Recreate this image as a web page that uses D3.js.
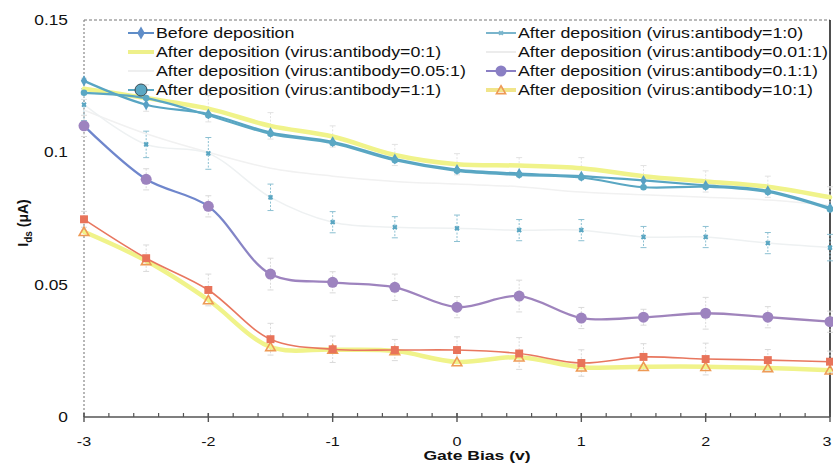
<!DOCTYPE html>
<html>
<head>
<meta charset="utf-8">
<script src="https://cdn.jsdelivr.net/npm/d3@7"></script>
<style>
  body { margin: 0; background: #fff; }
  svg { display: block; font-family: "Liberation Sans", Arial, sans-serif; }
</style>
</head>
<body>
<svg id="chart" width="833" height="465"></svg>
<script>
// ---------------- DATA ----------------
const gateBias = [-3, -2.5, -2, -1.5, -1, -0.5, 0, 0.5, 1, 1.5, 2, 2.5, 3];
const xTicks = [-3, -2, -1, 0, 1, 2, 3];
const xTickLabels = ["-3", "-2", "-1", "0", "1", "2", "3"];
const yTicks = [0, 0.05, 0.1, 0.15];
const yTickLabels = ["0", "0.05", "0.1", "0.15"];

const beforeDeposition = [0.127, 0.118, 0.1145, 0.1075, 0.104, 0.0975, 0.0935, 0.092, 0.091, 0.0894, 0.0875, 0.0855, 0.079];
const ratio0to1 = [0.124, 0.1205, 0.1165, 0.110, 0.106, 0.099, 0.0955, 0.095, 0.094, 0.091, 0.089, 0.087, 0.083];
const ratio005to1 = [0.0747, 0.060, 0.048, 0.0294, 0.0256, 0.0253, 0.0253, 0.024, 0.0204, 0.0227, 0.0219, 0.0215, 0.0209];
const ratio1to1 = [0.1225, 0.1205, 0.114, 0.107, 0.1035, 0.097, 0.093, 0.0915, 0.0905, 0.0868, 0.087, 0.085, 0.0785];
const ratio1to0 = [0.118, 0.103, 0.0996, 0.083, 0.0736, 0.0717, 0.0713, 0.0706, 0.0706, 0.068, 0.068, 0.0657, 0.064];
const ratio001to1 = [0.116, 0.107, 0.100, 0.094, 0.091, 0.089, 0.088, 0.087, 0.085, 0.084, 0.083, 0.082, 0.080];
const ratio01to1 = [0.110, 0.0898, 0.0796, 0.054, 0.0509, 0.049, 0.0415, 0.0457, 0.0374, 0.0377, 0.0392, 0.0377, 0.036];
const ratio10to1 = [0.070, 0.059, 0.0442, 0.0265, 0.0255, 0.025, 0.0208, 0.0226, 0.0188, 0.019, 0.019, 0.0185, 0.0177];

// error bar half-lengths
const err1to0 = [0.006, 0.005, 0.006, 0.005, 0.004, 0.004, 0.005, 0.004, 0.004, 0.004, 0.004, 0.004, 0.005];
const err01to1 = [0.004, 0.004, 0.004, 0.006, 0.004, 0.005, 0.004, 0.006, 0.004, 0.003, 0.006, 0.004, 0.004];
const err005to1 = [0.003, 0.005, 0.006, 0.006, 0.005, 0.004, 0.005, 0.006, 0.005, 0.005, 0.006, 0.004, 0.004];
const err0to1 = [0.004, 0.005, 0.005, 0.005, 0.004, 0.004, 0.004, 0.003, 0.004, 0.004, 0.004, 0.004, 0.004];

// ---------------- SERIES STYLE ----------------
const series = [
  { name: "After deposition (virus:antibody=0.01:1)", values: ratio001to1, color: "#f1f1f1", width: 1.5, marker: "none", legend: [1, 1], swatch: "#ececec", err: null },
  { name: "After deposition (virus:antibody=1:0)", values: ratio1to0, color: "#eef1f2", width: 1.5, marker: "star", mcolor: "#5aa6c2", msize: 0.8, legend: [1, 0], swatch: "#7ab5cc", err: err1to0, ecolor: "#8cc0d2" },
  { name: "After deposition (virus:antibody=0:1)", values: ratio0to1, color: "#f0f38a", width: 4.5, marker: "none", legend: [0, 1], swatch: "#eef08a", err: err0to1, ecolor: "#e2e2e2" },
  { name: "Before deposition", values: beforeDeposition, color: "#58a5c3", width: 2.2, marker: "diamond", mcolor: "#58a0c4", msize: 0.7, legend: [0, 0], swatch: "#5f8dc8", err: null },
  { name: "After deposition (virus:antibody=1:1)", values: ratio1to1, color: "#5aa7c3", width: 2.2, marker: "circle", mcolor: "#5aa7c3", msize: 0.6, legend: [0, 3], swatch: "#5aa7c3", err: null },
  { name: "After deposition (virus:antibody=0.1:1)", values: ratio01to1, color: "url(#purpleGrad)", width: 2.3, marker: "circle", mcolor: "#9d83bf", msize: 1, legend: [1, 2], swatch: "#8a7fc4", err: err01to1, ecolor: "#dadada" },
  { name: "After deposition (virus:antibody=10:1)", values: ratio10to1, color: "#f0f38a", width: 4.5, marker: "triangle", mcolor: "#ee9a55", msize: 1, legend: [1, 3], swatch: "#f1e58a", err: null },
  { name: "After deposition (virus:antibody=0.05:1)", values: ratio005to1, color: "#e8775f", width: 1.6, marker: "square", mcolor: "#e8735a", msize: 0.9, legend: [0, 2], swatch: "#efefef", err: err005to1, ecolor: "#dadada" }
];

// ---------------- LAYOUT ----------------
const svg = d3.select("#chart");
const x = d3.scaleLinear().domain([-3, 3]).range([84, 830]);
const y = d3.scaleLinear().domain([0, 0.15]).range([417, 20]);
const SX = 1.24; // horizontal stretch of lettering in the scan

const defs = svg.append("defs");
const grad = defs.append("linearGradient").attr("id", "purpleGrad")
  .attr("gradientUnits", "userSpaceOnUse")
  .attr("x1", x(-3)).attr("x2", x(3)).attr("y1", 0).attr("y2", 0);
grad.append("stop").attr("offset", (x(-2) - x(-3)) / (x(3) - x(-3))).attr("stop-color", "#6f86cc");
grad.append("stop").attr("offset", (x(-1.5) - x(-3)) / (x(3) - x(-3))).attr("stop-color", "#9d83bf");
grad.append("stop").attr("offset", 1).attr("stop-color", "#a084bb");

function stretchedText(g, tx, ty, str, opts) {
  const t = g.append("text")
    .attr("transform", `translate(${tx},${ty}) scale(${opts.sx || SX},1)` + (opts.rotate ? ` rotate(${opts.rotate})` : ""))
    .attr("text-anchor", opts.anchor || "start")
    .attr("font-size", opts.size || 14)
    .attr("font-weight", opts.weight || "normal")
    .attr("fill", opts.fill || "#111");
  if (str !== null) t.text(str);
  return t;
}

// ---------------- FRAME & AXES ----------------
svg.append("line").attr("x1", x(-3)).attr("x2", x(3)).attr("y1", y(0.15)).attr("y2", y(0.15))
  .attr("stroke", "#777").attr("stroke-width", 1.2).attr("stroke-dasharray", "3,2");
svg.append("line").attr("x1", x(-3)).attr("x2", x(-3)).attr("y1", y(0.15)).attr("y2", y(0))
  .attr("stroke", "#888").attr("stroke-width", 1.2).attr("stroke-dasharray", "2,2");
svg.append("line").attr("x1", x(3)).attr("x2", x(3)).attr("y1", y(0.15)).attr("y2", y(0))
  .attr("stroke", "#222").attr("stroke-width", 1.6);

const xAxisG = svg.append("g").attr("transform", `translate(0,${y(0)})`);
xAxisG.append("line").attr("x1", x(-3)).attr("x2", x(3)).attr("stroke", "#555").attr("stroke-width", 1.6);
const minor = d3.range(-3, 3.001, 0.2).map(v => +v.toFixed(1));
xAxisG.selectAll("line.minor").data(minor).join("line").attr("class", "minor")
  .attr("x1", d => x(d)).attr("x2", d => x(d)).attr("y1", -4).attr("y2", 0)
  .attr("stroke", "#555").attr("stroke-width", 1.2);
xAxisG.selectAll("line.major").data(xTicks).join("line").attr("class", "major")
  .attr("x1", d => x(d)).attr("x2", d => x(d)).attr("y1", -4).attr("y2", 5)
  .attr("stroke", "#555").attr("stroke-width", 1.4);
xTicks.forEach((v, i) => {
  const px = Math.min(x(v), 827);
  stretchedText(svg, px, 446, xTickLabels[i], { anchor: "middle", size: 13 });
});

yTicks.forEach((v, i) => stretchedText(svg, 68, y(v) + 5, yTickLabels[i], { anchor: "end", size: 14 }));

stretchedText(svg, 477, 460, "Gate Bias (v)", { anchor: "middle", size: 13.5, weight: "bold", sx: 1.3 });
const yt = stretchedText(svg, 28, 223, null, { anchor: "middle", size: 14, weight: "bold", rotate: -90, sx: 1.1 });
yt.append("tspan").text("I");
yt.append("tspan").attr("font-size", 10).attr("dy", 4).text("ds");
yt.append("tspan").attr("dy", -4).text(" (\u03bcA)");

// ---------------- DATA MARKS ----------------
const line = d3.line().x(d => x(d[0])).y(d => y(d[1])).curve(d3.curveCatmullRom.alpha(0.5));
const plot = svg.append("g");

series.forEach(s => {
  if (!s.err) return;
  const g = plot.append("g");
  gateBias.forEach((gx, i) => {
    const cx = x(gx), top = y(s.values[i] + s.err[i]), bot = y(s.values[i] - s.err[i]);
    g.append("line").attr("x1", cx).attr("x2", cx).attr("y1", top).attr("y2", bot)
      .attr("stroke", s.ecolor).attr("stroke-width", 1).attr("stroke-dasharray", "2,1.5");
    [top, bot].forEach(yy => g.append("line").attr("x1", cx - 3).attr("x2", cx + 3).attr("y1", yy).attr("y2", yy)
      .attr("stroke", s.ecolor).attr("stroke-width", 1));
  });
});

function drawMarker(g, type, cx, cy, color, size) {
  size = size || 1;
  if (type === "circle") {
    g.append("circle").attr("cx", cx).attr("cy", cy).attr("r", 5.5 * size).attr("fill", color);
  } else if (type === "diamond") {
    g.append("path").attr("d", d3.symbol(d3.symbolDiamond, 50 * size)()).attr("transform", `translate(${cx},${cy})`).attr("fill", color);
  } else if (type === "square") {
    g.append("path").attr("d", d3.symbol(d3.symbolSquare, 70 * size)()).attr("transform", `translate(${cx},${cy})`).attr("fill", color);
  } else if (type === "triangle") {
    g.append("path").attr("d", d3.symbol(d3.symbolTriangle, 40 * size)()).attr("transform", `translate(${cx},${cy + 1})`)
      .attr("fill", "none").attr("stroke", color).attr("stroke-width", 1.6);
  } else if (type === "star") {
    g.append("path").attr("d", d3.symbol(d3.symbolCross, 22 * size)()).attr("transform", `translate(${cx},${cy}) rotate(45)`).attr("fill", color);
    g.append("circle").attr("cx", cx).attr("cy", cy).attr("r", 2.2 * size).attr("fill", color);
  }
}

series.forEach(s => {
  const pts = gateBias.map((gx, i) => [gx, s.values[i]]);
  plot.append("path").datum(pts).attr("d", line)
    .attr("fill", "none").attr("stroke", s.color).attr("stroke-width", s.width)
    .attr("stroke-linejoin", "round").attr("stroke-linecap", "round");
  if (s.marker !== "none") {
    const mg = plot.append("g");
    pts.forEach(p => drawMarker(mg, s.marker, x(p[0]), y(p[1]), s.mcolor, s.msize));
  }
});

// ---------------- LEGEND ----------------
const legendCols = [{ x1: 128, x2: 154, tx: 156 }, { x1: 486, x2: 516, tx: 518 }];
const legendRows = [33, 52, 71, 90];
const lg = svg.append("g");
series.forEach(s => {
  const col = legendCols[s.legend[0]], ry = legendRows[s.legend[1]];
  const sw = (s.width >= 4) ? 4 : 2;
  lg.append("line").attr("x1", col.x1).attr("x2", col.x2).attr("y1", ry).attr("y2", ry)
    .attr("stroke", s.swatch).attr("stroke-width", sw);
  if (s.marker !== "none") {
    const c = (col.x1 + col.x2) / 2;
    if (s.name.endsWith("=1:1)")) {
      lg.append("circle").attr("cx", c).attr("cy", ry).attr("r", 6).attr("fill", "#5aa7c3").attr("stroke", "#3a4a52").attr("stroke-width", 1);
    } else if (s.marker === "triangle") {
      drawMarker(lg, "triangle", c, ry, s.mcolor, 0.9);
    } else if (s.marker === "square") {
      // faint in the reference legend
    } else if (s.marker === "star") {
      drawMarker(lg, "star", c, ry, "#7ab5cc", 0.7);
    } else {
      drawMarker(lg, s.marker, c, ry, s.swatch, 1);
    }
  }
  stretchedText(lg, col.tx, ry + 5, s.name, { size: 14, sx: 1.27 });
});
</script>
</body>
</html>
